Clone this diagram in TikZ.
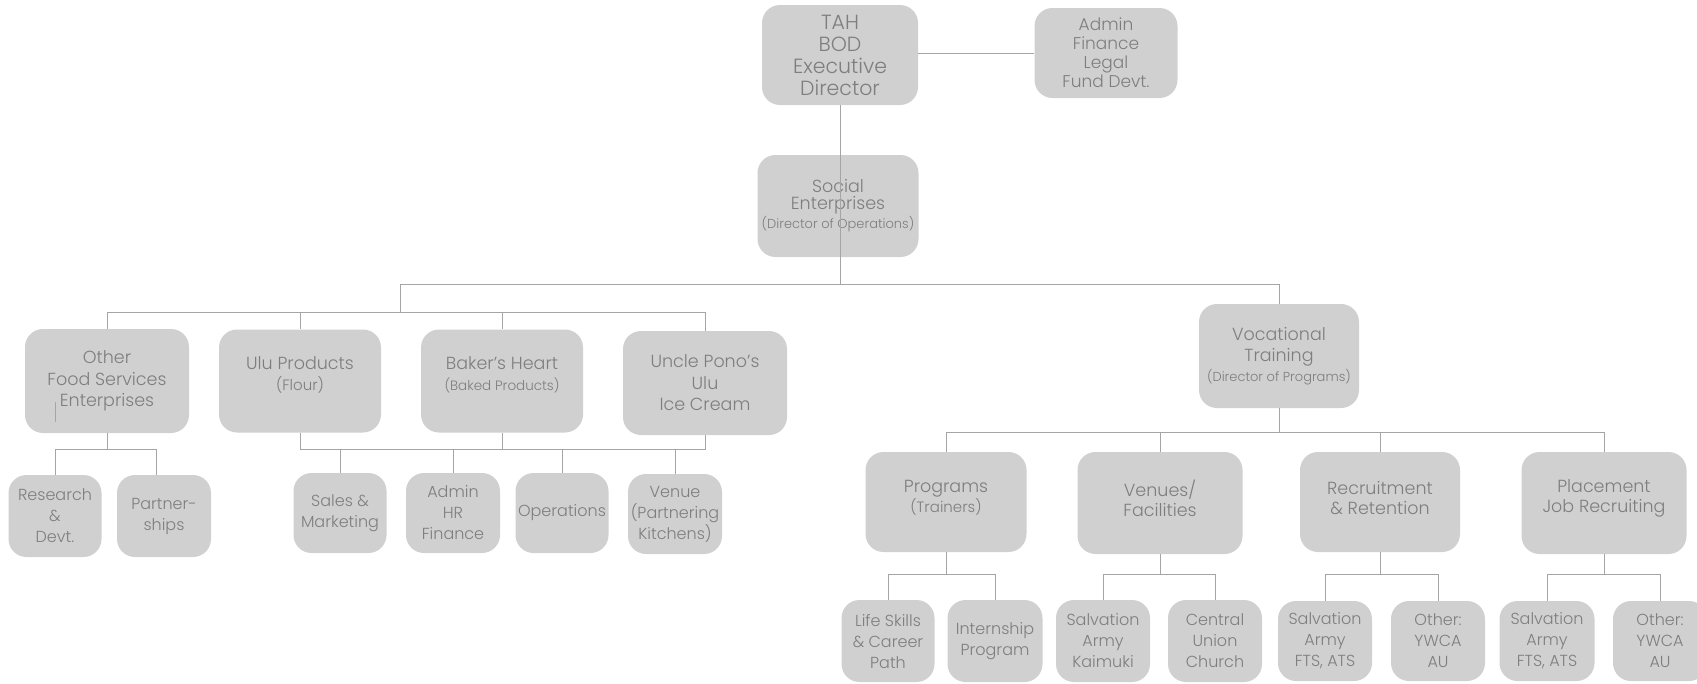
\documentclass[tikz,border=0pt]{standalone}
\usepackage{fontspec}
\setmainfont{Poppins}[UprightFont=* Light]
\definecolor{boxgray}{HTML}{D0D0D0}
\definecolor{txtgray}{HTML}{7E7E7E}
\definecolor{linegray}{HTML}{A5A5A5}
\begin{document}
\begin{tikzpicture}[x=1pt,y=-1pt,
  box/.style 2 args={fill=boxgray, rounded corners=18pt, minimum width=#1pt, minimum height=#2pt, inner sep=0pt, text=txtgray, align=center},
  txt/.style={text=txtgray, align=center, inner sep=0pt},
  fA/.style={font=\fontsize{20.5}{22}\selectfont},
  fB/.style={font=\fontsize{17}{19}\selectfont},
  fS/.style={font=\fontsize{17.5}{17}\selectfont},
  fC/.style={font=\fontsize{17.5}{21.5}\selectfont},
  fP/.style={font=\fontsize{17.5}{20}\selectfont},
  fD/.style={font=\fontsize{16}{21}\selectfont},
  conn/.style={draw=linegray, line width=1pt}
]
\useasboundingbox (0,0) rectangle (1697,683);
% top
\node[box={156}{100}, fA] (tah) at (840,55) {TAH\\BOD\\Executive\\Director};
\node[box={143}{90}, fB] (admin) at (1106,53) {Admin\\Finance\\Legal\\Fund Devt.};
\node[box={161}{102}, fS] (social) at (838,206) {Social\\Enterprises\\[2pt]{\fontsize{13}{15}\selectfont (Director of Operations)}};
\node[box={160}{104}, fC] (voc) at (1279,356) {Vocational\\Training\\[-2pt]{\fontsize{13}{15}\selectfont (Director of Programs)}};
% enterprises row
\node[box={164}{104}, fC] (other) at (107,381) {Other\\Food Services\\Enterprises};
\node[box={162}{103}] (ulu) at (300,381) {};
\node[txt, fC] (ulutext) at (300,375) {Ulu Products\\{\fontsize{15}{18}\selectfont (Flour)}};
\node[box={162}{103}] (bakers) at (502,381) {};
\node[txt, fC] (bakerstext) at (502,375) {Baker's Heart\\{\fontsize{13.5}{18}\selectfont (Baked Products)}};
\node[box={164}{104}, fC] (uncle) at (705,383) {Uncle Pono's\\Ulu\\Ice Cream};
% enterprise sub row
\node[box={93}{82}, fD] (research) at (55,516) {Research\\\&\\Devt.};
\node[box={94}{82}, fD] (part) at (164,516) {Partner-\\ships};
\node[box={93}{80}, fD] (sales) at (340,513) {Sales \&\\Marketing};
\node[box={94}{80}, fD] (adminhr) at (453,513) {Admin\\HR\\Finance};
\node[box={93}{80}, fD] (ops) at (562,513) {Operations};
\node[box={94}{80}, fD] (venue) at (675,514) {Venue\\(Partnering\\Kitchens)};
% vocational row
\node[box={161}{100}] (prog) at (946,502) {};
\node[txt, fP] (progtext) at (946,498) {Programs\\{\fontsize{15}{18}\selectfont (Trainers)}};
\node[box={165}{102}] (venues) at (1160,503) {};
\node[txt, fP] (venuestext) at (1160,498) {Venues/\\Facilities};
\node[box={160}{100}] (recruit) at (1380,502) {};
\node[txt, fP] (recruittext) at (1380,498) {Recruitment\\\& Retention};
\node[box={165}{102}] (place) at (1604,503) {};
\node[txt, fP] (placetext) at (1604,498) {Placement\\Job Recruiting};
% bottom row
\node[box={93}{82}, fD] (life) at (888,641) {Life Skills\\\& Career\\Path};
\node[box={95}{82}, fD] (intern) at (995,641) {Internship\\Program};
\node[box={94}{82}, fD] (sak) at (1103,641) {Salvation\\Army\\Kaimuki};
\node[box={94}{82}, fD] (cuc) at (1215,641) {Central\\Union\\Church};
\node[box={94}{80}, fD] (sa2) at (1325,641) {Salvation\\Army\\FTS, ATS};
\node[box={94}{80}, fD] (oth2) at (1438,641) {Other:\\YWCA\\AU};
\node[box={95}{80}, fD] (sa3) at (1547,641) {Salvation\\Army\\FTS, ATS};
\node[box={94}{80}, fD] (oth3) at (1660,641) {Other:\\YWCA\\AU};
% bus levels
\coordinate (b1l) at (400,284);
\coordinate (b2y) at (0,312);
\coordinate (b3y) at (0,449);
\coordinate (b4y) at (0,432);
\coordinate (b5y) at (0,574);
\coordinate (pt) at ([xshift=-8pt]part.north);
\coordinate (m1) at (55,402);
\coordinate (m2) at (55,422);
% connectors
\draw[conn] (tah.east |- admin.west) -- (admin.west);
\draw[conn] (tah.south) -- (tah.south |- b1l);
\draw[conn] (b1l |- b2y) -- (b1l) -- (b1l -| voc.north) -- (voc.north);
\draw[conn] (other.north |- b2y) -- (uncle.north |- b2y);
\foreach \n in {other, ulu, bakers, uncle} \draw[conn] (\n.north |- b2y) -- (\n.north);
\draw[conn] (other.south) -- (other.south |- b3y);
\draw[conn] (research.north |- b3y) -- (pt |- b3y);
\draw[conn] (research.north |- b3y) -- (research.north);
\draw[conn] (pt |- b3y) -- (pt);
\draw[conn] (ulu.south) -- (ulu.south |- b3y) -- (uncle.south |- b3y) -- (uncle.south);
\draw[conn] (bakers.south) -- (bakers.south |- b3y);
\foreach \n in {sales, adminhr, ops, venue} \draw[conn] (\n.north |- b3y) -- (\n.north);
\draw[conn] (voc.south) -- (voc.south |- b4y);
\draw[conn] (prog.north |- b4y) -- (place.north |- b4y);
\foreach \n in {prog, venues, recruit, place} \draw[conn] (\n.north |- b4y) -- (\n.north);
\foreach \p/\a/\b in {prog/life/intern, venues/sak/cuc, recruit/sa2/oth2, place/sa3/oth3} {
  \draw[conn] (\p.south) -- (\p.south |- b5y);
  \draw[conn] (\a.north) -- (\a.north |- b5y) -- (\b.north |- b5y) -- (\b.north);
}
\draw[conn] (m1) -- (m2);
\end{tikzpicture}
\end{document}
